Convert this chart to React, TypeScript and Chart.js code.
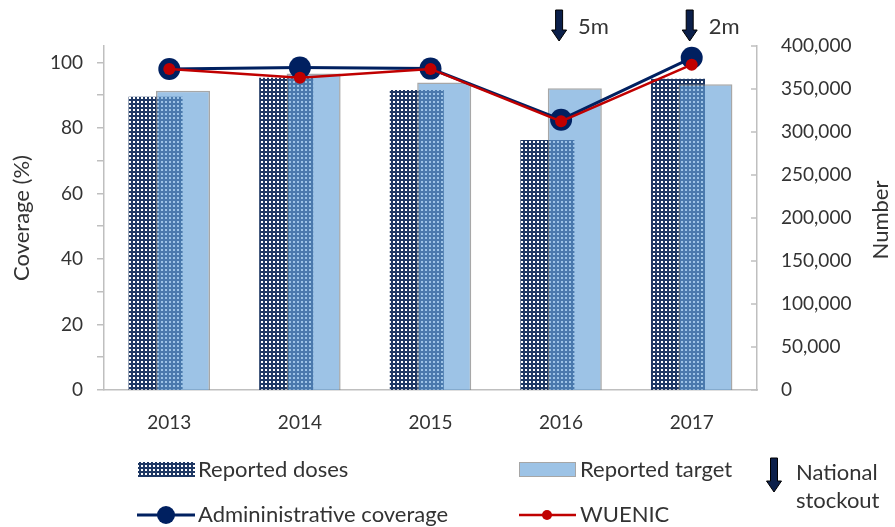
import React, { useEffect, useRef } from 'react';
import { Chart, registerables } from 'chart.js';

Chart.register(...registerables);

// ---- data ----
const years = ['2013', '2014', '2015', '2016', '2017'];
const reportedDoses = [341000, 363000, 348700, 290700, 362000];
const reportedTarget = [348000, 368000, 357500, 351000, 355500];
const adminCoverage = [98, 98.4, 98.1, 82.5, 101.4];
const wuenicCoverage = [98, 95.3, 98, 82, 99.3];
const stockoutYears = ['2016', '2017'];
const stockoutLabels = ['5m', '2m'];
const leftTickMarks = [0, 10, 20, 30, 40, 50, 60, 70, 80, 90, 100];
const leftTickLabels = [0, 20, 40, 60, 80, 100];

const FONT = 'Lato, "Open Sans", sans-serif';
const TEXT = '#333333';
const AXIS = '#bfbfbf';
const NAVY = '#002060';
const RED = '#c00000';
const DOSES_NAVY = '#1f3864';
const TARGET_FILL = 'rgba(99,160,215,0.63)';
const TARGET_BORDER = 'rgba(130,130,130,0.7)';

function makePattern(): CanvasPattern | string {
  const c = document.createElement('canvas');
  c.width = 4;
  c.height = 4;
  const g = c.getContext('2d');
  if (!g) return DOSES_NAVY;
  g.fillStyle = DOSES_NAVY;
  g.fillRect(0, 0, 4, 4);
  g.clearRect(1, 1, 2, 2);
  const p = g.createPattern(c, 'repeat');
  return p || DOSES_NAVY;
}

function drawArrow(ctx: CanvasRenderingContext2D, cx: number, top: number, bottom: number) {
  const shaftW = 7;
  const headW = 15;
  const headH = 11;
  const hy = bottom - headH;
  ctx.beginPath();
  ctx.moveTo(cx - shaftW / 2, top);
  ctx.lineTo(cx + shaftW / 2, top);
  ctx.lineTo(cx + shaftW / 2, hy);
  ctx.lineTo(cx + headW / 2, hy);
  ctx.lineTo(cx, bottom);
  ctx.lineTo(cx - headW / 2, hy);
  ctx.lineTo(cx - shaftW / 2, hy);
  ctx.closePath();
  ctx.fillStyle = '#0b1f4a';
  ctx.fill();
  ctx.strokeStyle = '#000000';
  ctx.lineWidth = 1;
  ctx.stroke();
}

export default function App() {
  const ref = useRef<HTMLCanvasElement>(null);

  useEffect(() => {
    document.body.style.margin = '0';
    const canvas = ref.current;
    if (!canvas) return;
    const pattern = makePattern();

    const orderPlugin = {
      id: 'drawOrder',
      beforeDatasetsDraw(chart: any) {
        const seq = [0, 1, 2, 3];
        for (const i of seq) {
          const meta = chart.getDatasetMeta(i);
          if (meta && meta.visible !== false) meta.controller.draw();
        }
        return false;
      },
    };

    const decorPlugin = {
      id: 'decor',
      afterDraw(chart: any) {
        const ctx: CanvasRenderingContext2D = chart.ctx;
        const area = chart.chartArea;
        const xs = chart.scales.x;
        const y2 = chart.scales.y2;
        ctx.save();

        // inward tick marks on right axis
        ctx.strokeStyle = AXIS;
        ctx.lineWidth = 1.5;
        y2.ticks.forEach((t: any) => {
          const py = y2.getPixelForValue(t.value);
          ctx.beginPath();
          ctx.moveTo(y2.left - 6, py);
          ctx.lineTo(y2.left, py);
          ctx.stroke();
        });

        // axis titles
        ctx.fillStyle = TEXT;
        ctx.font = `22px ${FONT}`;
        ctx.textAlign = 'center';
        ctx.textBaseline = 'middle';
        ctx.save();
        ctx.translate(22, (area.top + area.bottom) / 2);
        ctx.rotate(-Math.PI / 2);
        ctx.fillText('Coverage (%)', 0, 0);
        ctx.restore();
        ctx.save();
        ctx.translate(881, (area.top + area.bottom) / 2 + 2);
        ctx.rotate(-Math.PI / 2);
        ctx.fillText('Number', 0, 0);
        ctx.restore();

        // stockout arrows
        stockoutYears.forEach((yr, k) => {
          const idx = years.indexOf(yr);
          const cx = xs.getPixelForValue(idx) - 2;
          drawArrow(ctx, cx, 10, 41);
          ctx.fillStyle = TEXT;
          ctx.font = `22px ${FONT}`;
          ctx.textAlign = 'left';
          ctx.textBaseline = 'middle';
          ctx.fillText(stockoutLabels[k], cx + 19, 27);
        });

        // legend
        ctx.font = `22px ${FONT}`;
        ctx.textAlign = 'left';
        ctx.textBaseline = 'middle';
        // row 1
        ctx.fillStyle = pattern as any;
        ctx.fillRect(138, 462, 57, 15);
        ctx.fillStyle = TEXT;
        ctx.fillText('Reported doses', 198, 470);

        ctx.fillStyle = '#9dc3e6';
        ctx.fillRect(519, 462, 57, 15);
        ctx.strokeStyle = '#a6a6a6';
        ctx.lineWidth = 1;
        ctx.strokeRect(519.5, 462.5, 56, 14);
        ctx.fillStyle = TEXT;
        ctx.fillText('Reported target', 580, 470);

        drawArrow(ctx, 774, 458, 492);
        ctx.fillStyle = TEXT;
        ctx.fillText('National', 796, 473);
        ctx.fillText('stockout', 796, 501);

        // row 2
        ctx.strokeStyle = NAVY;
        ctx.lineWidth = 3;
        ctx.beginPath();
        ctx.moveTo(137, 515);
        ctx.lineTo(195, 515);
        ctx.stroke();
        ctx.fillStyle = NAVY;
        ctx.beginPath();
        ctx.arc(166, 515, 9, 0, Math.PI * 2);
        ctx.fill();
        ctx.fillStyle = TEXT;
        ctx.fillText('Admininistrative coverage', 198, 515);

        ctx.strokeStyle = RED;
        ctx.lineWidth = 2.5;
        ctx.beginPath();
        ctx.moveTo(519, 515);
        ctx.lineTo(576, 515);
        ctx.stroke();
        ctx.fillStyle = RED;
        ctx.beginPath();
        ctx.arc(547, 515, 5, 0, Math.PI * 2);
        ctx.fill();
        ctx.fillStyle = TEXT;
        ctx.fillText('WUENIC', 580, 515);

        ctx.restore();
      },
    };

    const chart = new Chart(canvas, {
      type: 'bar',
      data: {
        labels: years,
        datasets: [
          {
            type: 'bar',
            label: 'Reported doses',
            data: reportedDoses,
            yAxisID: 'y2',
            backgroundColor: pattern as any,
            borderWidth: 0,
            categoryPercentage: 0.42,
            barPercentage: 1.97,
          },
          {
            type: 'bar',
            label: 'Reported target',
            data: reportedTarget,
            yAxisID: 'y2',
            backgroundColor: TARGET_FILL,
            borderColor: TARGET_BORDER,
            borderWidth: 1.5,
            categoryPercentage: 0.42,
            barPercentage: 1.97,
          },
          {
            type: 'line',
            label: 'Admininistrative coverage',
            data: adminCoverage,
            yAxisID: 'y',
            borderColor: NAVY,
            borderWidth: 3,
            backgroundColor: NAVY,
            pointBackgroundColor: NAVY,
            pointBorderWidth: 0,
            pointRadius: 11,
            tension: 0,
          },
          {
            type: 'line',
            label: 'WUENIC',
            data: wuenicCoverage,
            yAxisID: 'y',
            borderColor: RED,
            borderWidth: 2.5,
            backgroundColor: RED,
            pointBackgroundColor: RED,
            pointBorderWidth: 0,
            pointRadius: 6,
            tension: 0,
          },
        ],
      },
      options: {
        responsive: false,
        animation: false,
        devicePixelRatio: 1,
        layout: { padding: { top: 46, bottom: 92, left: 0, right: 0 } },
        plugins: {
          legend: { display: false },
          tooltip: { enabled: false },
        },
        scales: {
          x: {
            type: 'category',
            offset: true,
            grid: { display: false },
            border: { display: true, color: AXIS, width: 1.5 },
            ticks: {
              color: TEXT,
              font: { family: FONT, size: 19 },
              padding: 13,
              maxRotation: 0,
            },
            afterFit(scale: any) {
              scale.height = 45;
            },
          },
          y: {
            type: 'linear',
            position: 'left',
            min: 0,
            max: 105,
            grid: {
              display: true,
              drawOnChartArea: false,
              drawTicks: true,
              tickLength: 7,
              color: AXIS,
              lineWidth: 1.5,
            },
            border: { display: true, color: AXIS, width: 1.5 },
            ticks: {
              color: TEXT,
              font: { family: FONT, size: 19 },
              padding: 14,
              callback: (v: any) => (leftTickLabels.includes(Number(v)) ? String(v) : ''),
            },
            afterBuildTicks(scale: any) {
              scale.ticks = leftTickMarks.map((v) => ({ value: v }));
            },
            afterFit(scale: any) {
              scale.width = 104;
            },
          },
          y2: {
            type: 'linear',
            position: 'right',
            min: 0,
            max: 400000,
            grid: { display: false },
            border: { display: true, color: AXIS, width: 1.5 },
            ticks: {
              stepSize: 50000,
              color: TEXT,
              font: { family: FONT, size: 19 },
              padding: 16,
              callback: (v: any) => Number(v).toLocaleString('en-US'),
            },
            afterFit(scale: any) {
              scale.width = 138;
            },
          },
        },
      },
      plugins: [orderPlugin, decorPlugin],
    } as any);

    return () => chart.destroy();
  }, []);

  return (
    <div style={{ width: 895, height: 527, position: 'relative' }}>
      <canvas ref={ref} width={895} height={527} style={{ display: 'block' }} />
    </div>
  );
}
